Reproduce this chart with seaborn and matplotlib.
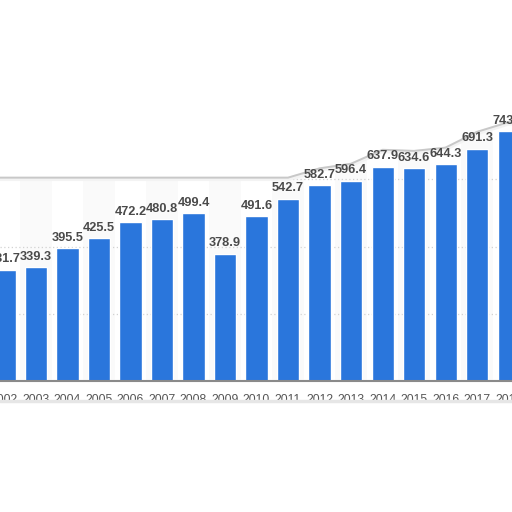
import numpy as np
import pandas as pd
import seaborn as sns
import matplotlib.pyplot as plt

# values (2002 and 2018 are cut off at the edges)
years  = ['2002', '2003', '2004', '2005', '2006', '2007', '2008', '2009', '2010',
          '2011', '2012', '2013', '2014', '2015', '2016', '2017', '2018']
values = [331.7, 339.3, 395.5, 425.5, 472.2, 480.8, 499.4, 378.9, 491.6,
          542.7, 582.7, 596.4, 637.9, 634.6, 644.3, 691.3, 743.0]

df = pd.DataFrame({'year': years, 'value': values})

sns.set_style('white')
plt.rcParams['font.family'] = ['Liberation Sans', 'DejaVu Sans']

fig = plt.figure(figsize=(5.12, 5.12), dpi=100)
ax = fig.add_axes([0, 131 / 512, 1, 281 / 512])

bar_col = '#2a76dc'
sns.barplot(data=df, x='year', y='value', color=bar_col, width=0.7,
            saturation=1, ax=ax)
for p in ax.patches:
    p.set_zorder(3)

ax.set_xlim(-0.143, 16.11)
ax.set_ylim(0, 836)

# faint alternating column bands of the plot background
for i in range(len(years)):
    if i % 2 == 1:
        ax.axvspan(i - 0.5, i + 0.5, color='#fafafa', zorder=0, lw=0)

# dotted grid
ax.set_yticks([0, 200, 400, 600, 800])
ax.yaxis.grid(True, linestyle=(0, (1, 2)), color='#d2d2d2', lw=0.9)
ax.set_axisbelow(True)
ax.tick_params(axis='y', left=False, labelleft=False)

# white torn overlay above the labels (screenshot artefact), follows the bars
vals = np.array(values)
edge = np.clip(vals + 50, 605, 770)
xs = np.arange(-1, len(years) + 1)
edge = np.r_[edge[0], edge, edge[-1]]
ax.fill_between(xs, edge, 900, color='white', zorder=2, lw=0)
ax.plot(xs, edge - 4, color='#f3f3f3', lw=3, zorder=2.1, solid_capstyle='butt')
ax.plot(xs, edge, color='#c8c8c8', lw=1.4, zorder=2.2)

# value labels
for i, v in enumerate(values):
    ax.annotate(f'{v:.1f}', (i, v), xytext=(0, 3), textcoords='offset points',
                ha='center', va='bottom', fontsize=9.2, fontweight='bold',
                color='#4a4a4a', zorder=5, annotation_clip=False)

sns.despine(ax=ax, left=True, right=True, top=True)
ax.spines['bottom'].set_color('#8a8a8a')
ax.spines['bottom'].set_linewidth(1.5)
ax.spines['bottom'].set_zorder(4)

ax.set_xlabel('')
ax.set_ylabel('')
ax.tick_params(axis='x', bottom=False, pad=6, labelsize=8.8, labelcolor='#555555')

# soft shadow under the tick labels
fig.add_artist(plt.Line2D([0, 1], [111 / 512, 111 / 512], color='#e6e6e6', lw=2.5))

fig.savefig('out.png', dpi=100, facecolor='white')
